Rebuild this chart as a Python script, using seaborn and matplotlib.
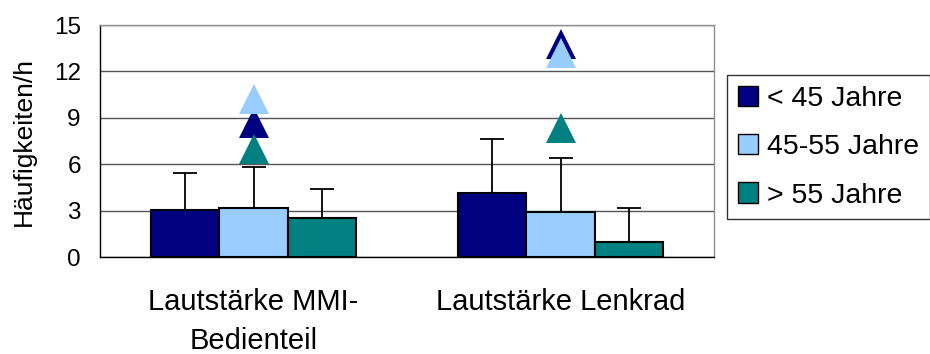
import numpy as np
import pandas as pd
import matplotlib
matplotlib.use("Agg")
import matplotlib.pyplot as plt
import seaborn as sns
from matplotlib.patches import Patch

# =========================
# DATA
# =========================

categories = ["Lautstärke MMI-\nBedienteil", "Lautstärke Lenkrad"]
groups = ["< 45 Jahre", "45-55 Jahre", "> 55 Jahre"]
colors = ["#000080", "#99CCFF", "#008080"]

mean_young = [3.05, 4.13]
mean_mid = [3.2, 2.9]
mean_old = [2.54, 0.94]

sd_young = [2.4, 3.47]
sd_mid = [2.65, 3.49]
sd_old = [1.87, 2.24]

max_young = [8.67, 13.8]
max_mid = [10.22, 13.16]
max_old = [7.01, 8.36]

yticks = [0, 3, 6, 9, 12, 15]

means = [mean_young, mean_mid, mean_old]
sds = [sd_young, sd_mid, sd_old]
maxima = [max_young, max_mid, max_old]

df = pd.DataFrame({
    "Kategorie": categories * len(groups),
    "Gruppe": [g for g in groups for _ in categories],
    "Wert": mean_young + mean_mid + mean_old,
})

# =========================
# STYLE
# =========================

sns.set_style("white")
plt.rcParams["font.family"] = ["Liberation Sans", "DejaVu Sans"]
plt.rcParams["text.color"] = "black"
plt.rcParams["axes.labelcolor"] = "black"
plt.rcParams["xtick.color"] = "black"
plt.rcParams["ytick.color"] = "black"

fig = plt.figure(figsize=(9.3, 3.54), dpi=100)
ax = fig.add_axes([100 / 930, 1 - 257 / 354, 614 / 930, 232 / 354])

# =========================
# BARS
# =========================

sns.barplot(
    data=df,
    x="Kategorie",
    y="Wert",
    hue="Gruppe",
    hue_order=groups,
    order=categories,
    palette=colors,
    saturation=1,
    width=0.67,
    edgecolor="black",
    linewidth=1.5,
    errorbar=None,
    legend=False,
    zorder=3,
    ax=ax
)

# upper error bars only
for container, sd in zip(ax.containers, sds):
    xs = [p.get_x() + p.get_width() / 2 for p in container.patches]
    hs = [p.get_height() for p in container.patches]
    ax.errorbar(
        xs, hs,
        yerr=[np.zeros(len(sd)), sd],
        fmt="none",
        ecolor="black",
        elinewidth=1.3,
        capsize=8.5,
        capthick=1.3,
        zorder=2
    )

# maxima as triangles at group centre
x_pos = np.arange(len(categories))
for vals, c in zip(maxima, colors):
    ax.plot(
        x_pos, vals,
        marker="^",
        markersize=22,
        linestyle="none",
        color=c,
        markeredgewidth=0,
        zorder=5
    )

# =========================
# AXES
# =========================

ax.set_ylim(0, 15)
ax.set_xlim(-0.5, len(categories) - 0.5)
ax.set_yticks(yticks)
ax.set_yticklabels([str(t) for t in yticks], fontsize=17.5)
ax.yaxis.grid(True, color="#555555", linewidth=1)
ax.set_axisbelow(True)

ax.set_xticks(x_pos)
ax.set_xticklabels(categories, fontsize=21, linespacing=1.5)
ax.set_xticks(np.arange(-0.5, len(categories)), minor=True)
ax.tick_params(axis="x", which="major", length=0, pad=22)
ax.tick_params(axis="x", which="minor", length=7.5, width=1, color="black", direction="out")
ax.tick_params(axis="y", length=5.8, width=1, color="black", direction="out", pad=8)

ax.set_xlabel("")
ax.set_ylabel("Häufigkeiten/h", fontsize=19, labelpad=13)

ax.spines["left"].set_color("black")
ax.spines["bottom"].set_color("black")
ax.spines["right"].set_color("#909090")
ax.spines["top"].set_color("#909090")
for s in ax.spines.values():
    s.set_linewidth(1)

# =========================
# LEGEND
# =========================

handles = [Patch(facecolor=c, edgecolor="black", linewidth=1) for c in colors]
leg = fig.legend(
    handles, groups,
    loc="upper left",
    bbox_to_anchor=(727 / 930, 1 - 75 / 354),
    fontsize=20.5,
    frameon=True,
    fancybox=False,
    edgecolor="black",
    handlelength=0.72,
    handleheight=0.72,
    handletextpad=0.32,
    labelspacing=0.78,
    borderpad=0.38,
    borderaxespad=0
)
leg.get_frame().set_linewidth(1)

plt.savefig("out.png", dpi=100)
